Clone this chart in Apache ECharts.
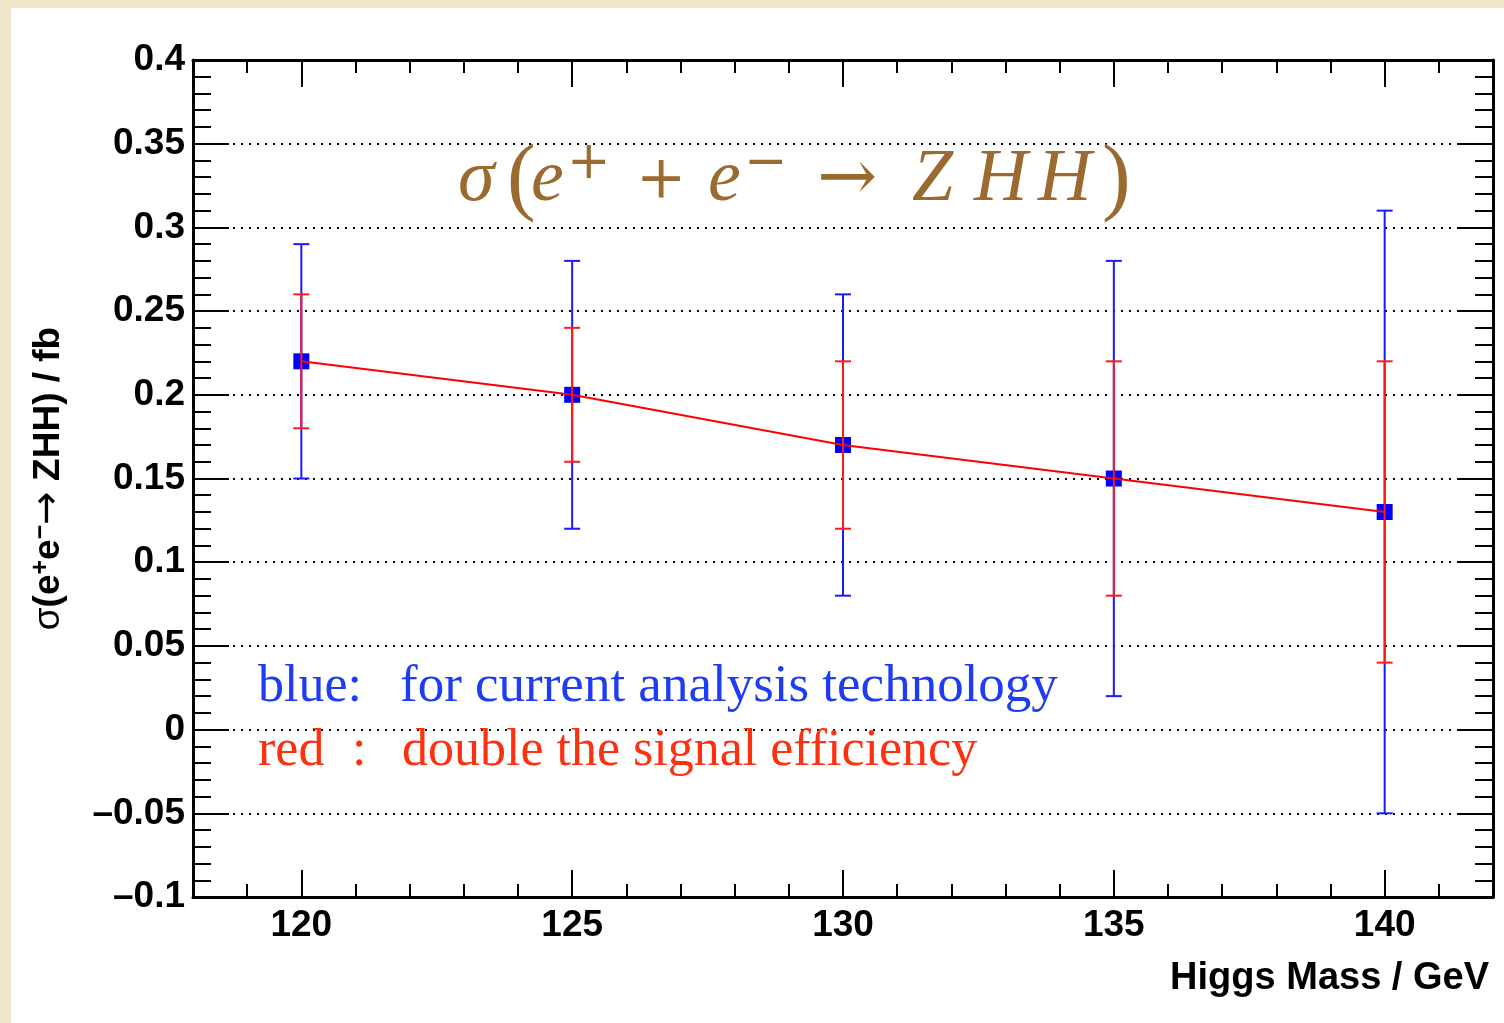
<!DOCTYPE html>
<html>
<head>
<meta charset="utf-8">
<script src="https://cdn.jsdelivr.net/npm/echarts@6/dist/echarts.min.js"></script>
<style>
  html, body { margin: 0; padding: 0; width: 1504px; height: 1023px; overflow: hidden; background: #f0e7ca; }
  #chart { position: absolute; left: 11px; top: 8px; width: 1493px; height: 1015px; background: #ffffff; }
</style>
</head>
<body>
<div id="chart"></div>
<script>
// Higgs mass points (GeV) and the ZHH cross section (fb)
const masses = [120, 125, 130, 135, 140];
const xsec = [0.22, 0.20, 0.17, 0.15, 0.13];
// error band: current analysis technology (blue)
const blueLow = [0.15, 0.12, 0.08, 0.02, -0.05];
const blueHigh = [0.29, 0.28, 0.26, 0.28, 0.31];
// error band: doubled signal efficiency (red)
const redLow = [0.18, 0.16, 0.12, 0.08, 0.04];
const redHigh = [0.26, 0.24, 0.22, 0.22, 0.22];
// axis ticks
const xMajorTicks = [120, 125, 130, 135, 140];
const xMinorTicks = [118, 119, 121, 122, 123, 124, 126, 127, 128, 129, 131, 132, 133, 134, 136, 137, 138, 139, 141, 142];

const SANS = '"Liberation Sans", Arial, Helvetica, sans-serif';
const SERIF = '"Liberation Serif", "Times New Roman", serif';
const MATHOP = '"DejaVu Serif", serif';
const BROWN = '#9b6a31';

const chart = echarts.init(document.getElementById('chart'), null, { renderer: 'canvas' });

function errorBars(color, capHalf) {
  return function (params, api) {
    const x = api.value(0);
    const lo = api.coord([x, api.value(1)]);
    const hi = api.coord([x, api.value(2)]);
    const style = { stroke: color, lineWidth: 2 };
    return {
      type: 'group',
      children: [
        { type: 'line', shape: { x1: lo[0], y1: lo[1], x2: hi[0], y2: hi[1] }, style: style },
        { type: 'line', shape: { x1: lo[0] - capHalf, y1: lo[1], x2: lo[0] + capHalf, y2: lo[1] }, style: style },
        { type: 'line', shape: { x1: hi[0] - capHalf, y1: hi[1], x2: hi[0] + capHalf, y2: hi[1] }, style: style }
      ]
    };
  };
}

function yLabel(v) {
  const s = String(+v.toFixed(2));
  return s.replace('-', '\u2013');
}

const xRange = { min: 118, max: 142 };
const frameLine = { show: true, onZero: false, lineStyle: { color: '#000', width: 3 } };

function xAxisDef(position, ticks, len, withLabels, withLine) {
  return {
    type: 'value', position: position, min: xRange.min, max: xRange.max,
    axisLine: withLine ? frameLine : { show: false, onZero: false },
    splitLine: { show: false },
    axisTick: { show: true, inside: true, length: len, customValues: ticks, lineStyle: { color: '#000', width: 2 } },
    axisLabel: withLabels ? {
      show: true, customValues: xMajorTicks, margin: 10,
      fontFamily: SANS, fontWeight: 'bold', fontSize: 37, color: '#000'
    } : { show: false }
  };
}

// math-style title: each glyph gets its own slot width
function glyph(size, width, family, italic, extra) {
  return Object.assign({
    fontFamily: family, fontStyle: italic ? 'italic' : 'normal',
    fontSize: size, width: width, align: 'left', fill: BROWN
  }, extra || {});
}

const option = {
  animation: false,
  grid: { left: 182, top: 52, right: 11, bottom: 126, containLabel: false },
  xAxis: [
    Object.assign(xAxisDef('bottom', xMajorTicks, 27, true, true), {
      name: 'Higgs Mass / GeV', nameLocation: 'end', nameGap: 0,
      nameTextStyle: { fontFamily: SANS, fontWeight: 'bold', fontSize: 38, color: '#000',
        align: 'right', verticalAlign: 'top', padding: [63, 4, 0, 0] }
    }),
    xAxisDef('bottom', xMinorTicks, 13, false, false),
    xAxisDef('top', xMajorTicks, 27, false, true),
    xAxisDef('top', xMinorTicks, 13, false, false)
  ],
  yAxis: [
    {
      type: 'value', position: 'left', min: -0.1, max: 0.4, interval: 0.05,
      axisLine: frameLine,
      axisTick: { show: true, inside: true, length: 36, lineStyle: { color: '#000', width: 2 } },
      minorTick: { show: true, splitNumber: 5, length: 18, lineStyle: { color: '#000', width: 2 } },
      splitLine: { show: true, lineStyle: { color: '#000', width: 2, type: [2, 6] } },
      axisLabel: { margin: 8, fontFamily: SANS, fontWeight: 'bold', fontSize: 37, color: '#000', formatter: yLabel },
      name: '{g|\u03c3}{a|(e}{sup|+}{a|e}{sup|\u2212}{b|\u2192}{a| ZHH) / fb}',
      nameLocation: 'middle', nameGap: 124, nameRotate: 90,
      nameTextStyle: {
        color: '#000',
        rich: {
          g: { fontFamily: SANS, fontWeight: 'normal', fontSize: 37, color: '#000' },
          a: { fontFamily: SANS, fontWeight: 'bold', fontSize: 37, color: '#000' },
          b: { fontFamily: '"DejaVu Sans", sans-serif', fontWeight: 'normal', fontSize: 40, color: '#000' },
          sup: { fontFamily: SANS, fontWeight: 'bold', fontSize: 25, color: '#000', verticalAlign: 'top' }
        }
      }
    },
    {
      type: 'value', position: 'right', min: -0.1, max: 0.4, interval: 0.05,
      axisLine: frameLine,
      axisTick: { show: true, inside: true, length: 36, lineStyle: { color: '#000', width: 2 } },
      minorTick: { show: true, splitNumber: 5, length: 18, lineStyle: { color: '#000', width: 2 } },
      splitLine: { show: false },
      axisLabel: { show: false }
    }
  ],
  graphic: [
    {
      type: 'text', left: 447, top: 130, z: 10,
      style: {
        text: '{s|\u03c3}{lp|(}{e1|e}{sp|+}{op|+}{e2|e}{sm|\u2212}{ar|\u2192}{z|Z}{h1|H}{h2|H}{rp|)}',
        fill: BROWN,
        rich: {
          s: glyph(74, 49, SERIF, true),
          lp: glyph(86, 24, SERIF, false),
          e1: glyph(74, 36, SERIF, true),
          sp: glyph(52, 69, MATHOP, false, { verticalAlign: 'top' }),
          op: glyph(60, 72, MATHOP, false),
          e2: glyph(74, 36, SERIF, true),
          sm: glyph(52, 73, MATHOP, false, { verticalAlign: 'top' }),
          ar: glyph(72, 95, MATHOP, false),
          z: glyph(74, 62, SERIF, true),
          h1: glyph(74, 64, SERIF, true),
          h2: glyph(74, 64, SERIF, true),
          rp: glyph(86, 22, SERIF, false)
        }
      }
    },
    { type: 'text', left: 247, top: 653, z: 10,
      style: { text: 'blue:', fontFamily: SERIF, fontSize: 52, fill: '#1e3cf5' } },
    { type: 'text', left: 389, top: 653, z: 10,
      style: { text: 'for current analysis technology', fontFamily: SERIF, fontSize: 53, fill: '#1e3cf5' } },
    { type: 'text', left: 247, top: 717, z: 10,
      style: { text: 'red', fontFamily: SERIF, fontSize: 52, fill: '#ff3010' } },
    { type: 'text', left: 341, top: 717, z: 10,
      style: { text: ':', fontFamily: SERIF, fontSize: 52, fill: '#ff3010' } },
    { type: 'text', left: 391, top: 717, z: 10,
      style: { text: 'double the signal efficiency', fontFamily: SERIF, fontSize: 52, fill: '#ff3010' } }
  ],
  series: [
    {
      name: 'current analysis', type: 'custom', z: 2,
      renderItem: errorBars('#1a1aff', 8),
      data: masses.map((m, i) => [m, blueLow[i], blueHigh[i]]),
      encode: { x: 0, y: [1, 2] }
    },
    {
      name: 'cross section', type: 'scatter', z: 3,
      symbol: 'rect', symbolSize: 16,
      itemStyle: { color: '#0000ff', opacity: 1 },
      data: masses.map((m, i) => [m, xsec[i]])
    },
    {
      name: 'trend', type: 'line', z: 4,
      showSymbol: false, symbol: 'none',
      lineStyle: { color: '#ff0000', width: 2 },
      data: masses.map((m, i) => [m, xsec[i]])
    },
    {
      name: 'double efficiency', type: 'custom', z: 5,
      renderItem: errorBars('#ff1a1a', 8),
      data: masses.map((m, i) => [m, redLow[i], redHigh[i]]),
      encode: { x: 0, y: [1, 2] }
    }
  ]
};

chart.setOption(option);
</script>
</body>
</html>
